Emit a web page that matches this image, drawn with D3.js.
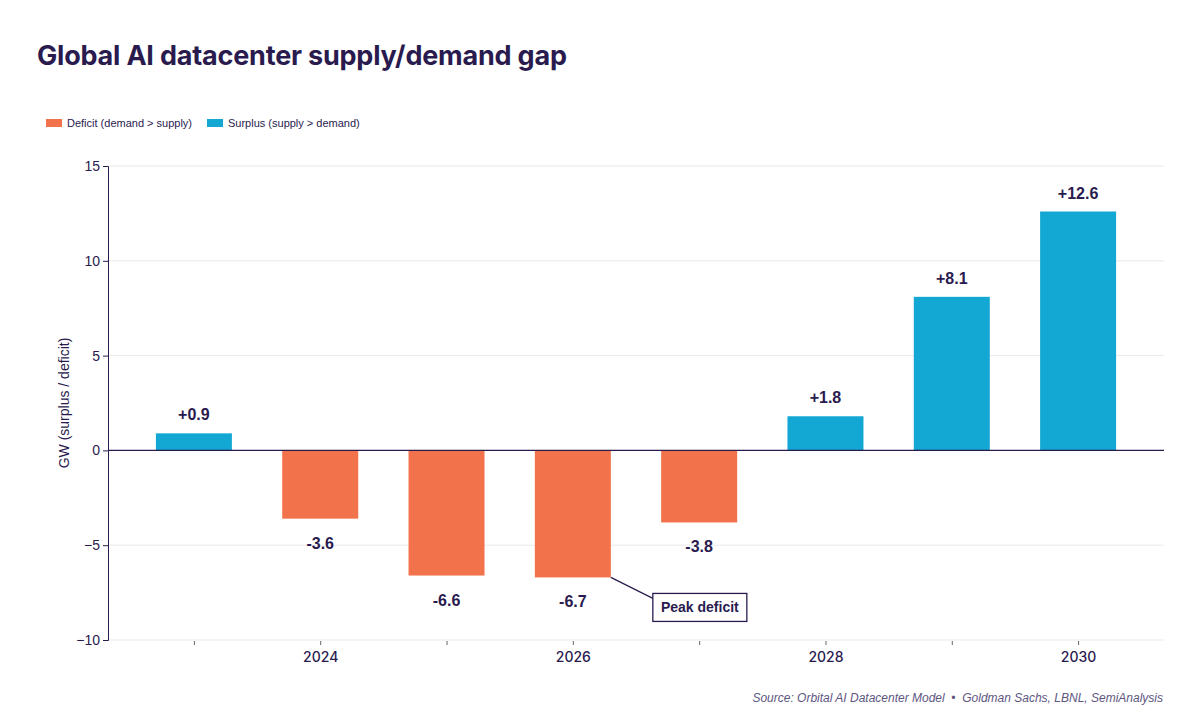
<!DOCTYPE html>
<html>
<head>
<meta charset="utf-8">
<script src="https://cdn.jsdelivr.net/npm/d3@7"></script>
<style>
  body { margin: 0; background: #fff; }
  text { font-family: "Liberation Sans", Arial, sans-serif; }
</style>
</head>
<body>
<svg id="chart" width="1200" height="720"></svg>
<script>
// data
let years = [2023, 2024, 2025, 2026, 2027, 2028, 2029, 2030]
let gap = [0.9, -3.6, -6.6, -6.7, -3.8, 1.8, 8.1, 12.6]
let yTicks = [-10, -5, 0, 5, 10, 15]
let xLabelYears = [2024, 2026, 2028, 2030]

let ink = "#2a1b4f",
    deficitColor = "#f2734b",
    surplusColor = "#13a7d4",
    sans = "'Liberation Sans', Arial, sans-serif",
    display = "Inter, 'Noto Sans', sans-serif"

//========================= SVG SETUP ============================
let svg = d3.select("#chart"),
    margin = {top: 166, right: 36, bottom: 80, left: 108},
    width = 1200 - margin.left - margin.right,
    height = 720 - margin.top - margin.bottom,
    g = svg.append("g").attr("transform", "translate(" + margin.left + "," + margin.top + ")")

let x = d3.scaleLinear().domain([2022.32, 2030.68]).range([0, width]),
    y = d3.scaleLinear().domain([-10, 15]).range([height, 0]),
    barW = 76

// title
svg.append("text")
  .attr("x", 37).attr("y", 65)
  .attr("fill", ink)
  .style("font-family", display)
  .style("font-size", "27px").style("font-weight", 700)
  .style("letter-spacing", "-0.2px")
  .text("Global AI datacenter supply/demand gap")

// legend
let legend = [
  {label: "Deficit (demand > supply)", color: deficitColor, x: 46},
  {label: "Surplus (supply > demand)", color: surplusColor, x: 207}
]
let lg = svg.selectAll(".legendItem").data(legend).enter().append("g")
  .attr("transform", d => "translate(" + d.x + ",119)")
lg.append("rect").attr("width", 16).attr("height", 8).attr("fill", d => d.color)
lg.append("text").attr("x", 21).attr("y", 8)
  .attr("fill", ink).style("font-size", "11px")
  .text(d => d.label)

//========================== GRID & AXES ==========================
g.selectAll(".grid").data(yTicks.filter(t => t !== 0)).enter().append("line")
  .attr("x1", 0).attr("x2", width)
  .attr("y1", d => y(d)).attr("y2", d => y(d))
  .attr("stroke", "#ebe8e8").attr("stroke-width", 1)

let yAxis = g.append("g")
  .call(d3.axisLeft(y).tickValues(yTicks).tickSize(5).tickFormat(d3.format("")))
yAxis.select(".domain").attr("stroke", ink)
yAxis.selectAll(".tick line").attr("stroke", ink)
yAxis.selectAll(".tick text").attr("fill", ink).style("font-size", "14px")
  .style("font-family", sans)
  .text(d => d < 0 ? "\u2212" + Math.abs(d) : d)

let xAxis = g.append("g")
  .attr("transform", "translate(0," + (height + 1) + ")")
  .call(d3.axisBottom(x).tickValues(years).tickSize(4).tickPadding(7)
    .tickFormat(d => xLabelYears.includes(d) ? d : ""))
xAxis.select(".domain").remove()
xAxis.selectAll(".tick line").attr("stroke", "#666")
xAxis.selectAll(".tick text").attr("fill", ink).style("font-size", "14px").style("font-weight", 500)
  .style("font-family", display)

svg.append("text")
  .attr("transform", "translate(69," + (margin.top + y(2.5)) + ") rotate(-90)")
  .attr("text-anchor", "middle")
  .attr("fill", ink).style("font-size", "14px")
  .text("GW (surplus / deficit)")

//========================== BARS ==========================
let data = years.map((yr, i) => ({year: yr, value: gap[i]}))

g.selectAll(".bar").data(data).enter().append("rect")
  .attr("x", d => x(d.year) - barW / 2)
  .attr("width", barW)
  .attr("y", d => y(Math.max(0, d.value)))
  .attr("height", d => Math.abs(y(d.value) - y(0)))
  .attr("fill", d => d.value < 0 ? deficitColor : surplusColor)

// zero line
g.append("line")
  .attr("x1", 0).attr("x2", width)
  .attr("y1", y(0)).attr("y2", y(0))
  .attr("stroke", ink).attr("stroke-width", 1.3)

g.selectAll(".valueLabel").data(data).enter().append("text")
  .attr("x", d => x(d.year))
  .attr("y", d => d.value < 0 ? y(d.value) + 30 : y(d.value) - 13)
  .attr("text-anchor", "middle")
  .attr("fill", ink).style("font-size", "16px").style("font-weight", 700)
  .text(d => (d.value > 0 ? "+" : "") + d.value.toFixed(1))

//========================== ANNOTATION ==========================
let peak = data[3]
let px = x(peak.year) + barW / 2, py = y(peak.value)
g.append("line")
  .attr("x1", px).attr("y1", py)
  .attr("x2", px + 42).attr("y2", py + 21)
  .attr("stroke", ink).attr("stroke-width", 1.3)
g.append("rect")
  .attr("x", px + 42).attr("y", py + 16)
  .attr("width", 94).attr("height", 28)
  .attr("fill", "#fff").attr("stroke", ink).attr("stroke-width", 1.3)
g.append("text")
  .attr("x", px + 89).attr("y", py + 35)
  .attr("text-anchor", "middle")
  .attr("fill", ink).style("font-size", "14px").style("font-weight", 700)
  .text("Peak deficit")

// source
svg.append("text")
  .attr("x", 1163).attr("y", 702)
  .attr("text-anchor", "end")
  .attr("xml:space", "preserve")
  .attr("fill", "#5d5680").style("font-size", "12px").style("font-style", "italic")
  .text("Source: Orbital AI Datacenter Model \u00a0\u2022\u00a0 Goldman Sachs, LBNL, SemiAnalysis")
</script>
</body>
</html>
